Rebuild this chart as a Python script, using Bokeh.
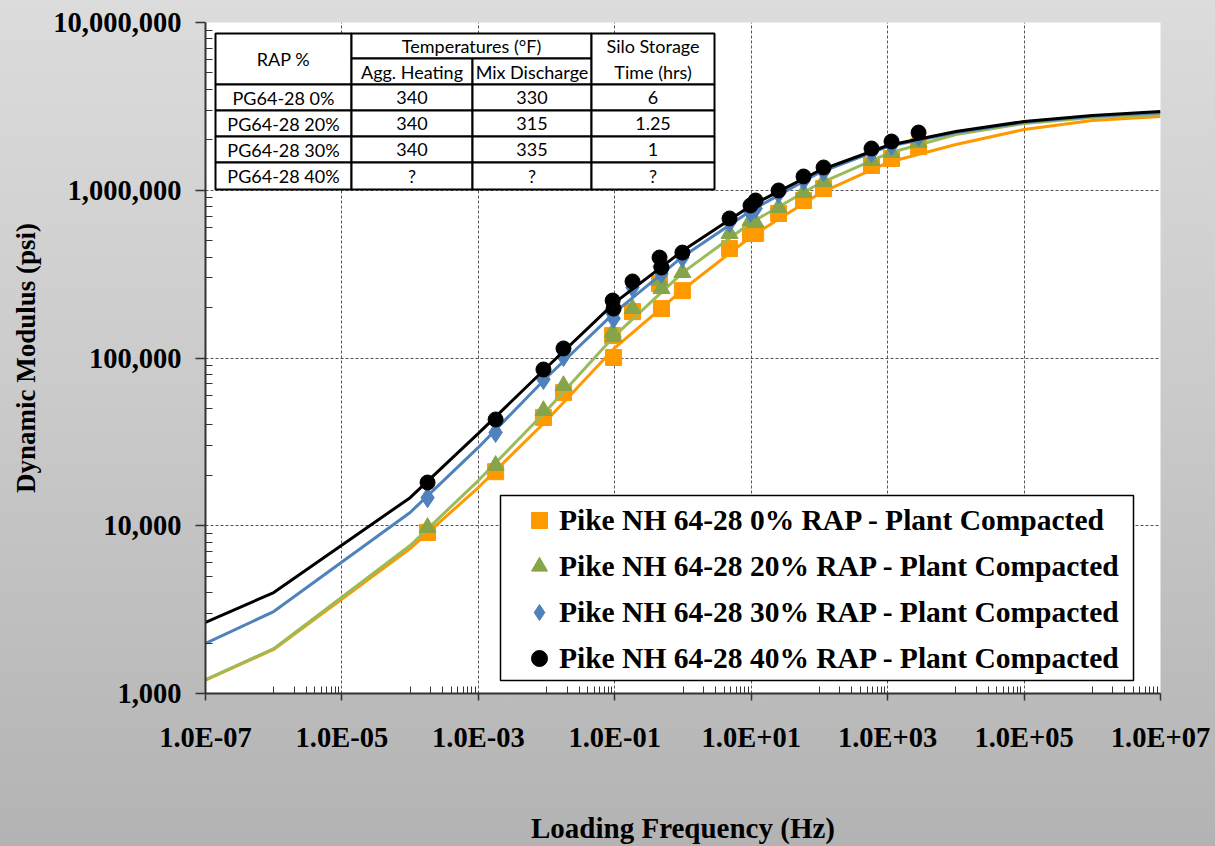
from bokeh.plotting import figure
from bokeh.models import (FixedTicker, CustomJSTickFormatter, NumeralTickFormatter,
                          Legend, LegendItem, BoxAnnotation, Label)
from bokeh.embed import file_html
from bokeh.resources import INLINE

# ---- master curves (loading frequency in Hz, |E*| in psi) ----
curve_freq = [1e-7, 1e-6, 1e-4, 1e-3, 1e-2, 1e-1, 1, 10, 100, 1e3, 1e4, 1e5, 1e6, 1e7]
curve_rap0 = [1200, 1830, 7310, 16900, 42400, 115000, 256000, 530000, 957000,
              1463000, 1874000, 2300000, 2606000, 2754000]
curve_rap20 = [1210, 1850, 7620, 18600, 48600, 136000, 324000, 642000, 1097000,
               1656000, 2150000, 2500000, 2716000, 2830000]
curve_rap30 = [1990, 3080, 12000, 29300, 76500, 187000, 403000, 757000, 1276000,
               1823000, 2208000, 2540000, 2760000, 2900000]
curve_rap40 = [2650, 4000, 14700, 35500, 87800, 214000, 437000, 811000, 1311000,
               1848000, 2239000, 2570000, 2790000, 2946000]

# ---- measured points (reduced frequency, Hz) ----
point_freq = [1.80e-4, 1.79e-3, 9.0e-3, 1.77e-2, 0.093, 0.096, 0.182, 0.453, 0.484,
              0.98, 4.81, 9.77, 11.6, 25.2, 58.5, 115, 580, 1140, 2840]
meas_rap0 = [9120, 21000, 44200, 62200, 136000, 100700, 189000, 278000, 197000,
             252000, 449000, 552000, 552000, 727000, 869000, 1024000, 1405000,
             1546000, 1823000]
meas_rap20 = [9770, 22900, 48600, 68500, 142000, 134000, 197000, 290000, 259000,
              323000, 552000, 660000, 642000, 789000, 970000, 1127000, 1504000,
              1679000, 1927000]
meas_rap30 = [14700, 36000, 74500, 102000, 184000, 172000, 263000, 351000, 319000,
              397000, 642000, 737000, 779000, 957000, 1143000, 1294000, 1679000,
              1848000, 2091000]
meas_rap40 = [18100, 43000, 85400, 114000, 220000, 197000, 286000, 397000, 346000,
              425000, 679000, 811000, 869000, 997000, 1208000, 1367000, 1774000,
              1953000, 2208000]

series_labels = [
    "Pike NH 64-28 0% RAP - Plant Compacted",
    "Pike NH 64-28 20% RAP - Plant Compacted",
    "Pike NH 64-28 30% RAP - Plant Compacted",
    "Pike NH 64-28 40% RAP - Plant Compacted",
]

# ---- mix production table ----
table_rap = ["PG64-28 0%", "PG64-28 20%", "PG64-28 30%", "PG64-28 40%"]
table_agg_heating = ["340", "340", "340", "?"]
table_mix_discharge = ["330", "315", "335", "?"]
table_silo_time = ["6", "1.25", "1", "?"]

SERIF = "Liberation Serif"

p = figure(width=1215, height=846, x_axis_type="log", y_axis_type="log",
           x_range=(1e-7, 1e7), y_range=(1e3, 1e7),
           output_backend="svg", toolbar_location=None,
           min_border_left=205, min_border_right=55,
           min_border_top=22, min_border_bottom=153)

p.border_fill_alpha = 0
p.background_fill_color = "white"
p.outline_line_color = None
p.styles = {"background-image": "linear-gradient(to bottom, #dcdcdc 0%, #cbcbcb 45%, #b3b3b3 100%)"}

# axes
x_major = [10.0 ** e for e in range(-7, 8, 2)]
x_minor = [k * 10.0 ** e for e in range(-6, 7, 2) for k in range(1, 10)]
y_major = [10.0 ** e for e in range(3, 8)]
y_minor = [k * 10.0 ** e for e in range(3, 7) for k in range(2, 10)]

p.xaxis.ticker = FixedTicker(ticks=x_major, minor_ticks=x_minor)
p.yaxis.ticker = FixedTicker(ticks=y_major, minor_ticks=y_minor)
p.xaxis.formatter = CustomJSTickFormatter(code="""
    const e = Math.round(Math.log10(tick));
    const s = String(Math.abs(e)).padStart(2, "0");
    return "1.0E" + (e < 0 ? "-" : "+") + s;
""")
p.yaxis.formatter = NumeralTickFormatter(format="0,0")

for ax in (p.xaxis, p.yaxis):
    ax.axis_line_color = "#333333"
    ax.axis_line_width = 2
    ax.major_tick_line_color = "#333333"
    ax.minor_tick_line_color = "#333333"
    ax.major_tick_line_width = 1.5
    ax.major_tick_in = 0
    ax.minor_tick_out = 0
    ax.minor_tick_in = 7
    ax.major_label_text_font = SERIF
    ax.major_label_text_font_style = "bold"
    ax.major_label_text_font_size = "28.5px"
    ax.major_label_text_color = "black"
    ax.axis_label_text_font = SERIF
    ax.axis_label_text_font_style = "bold"
    ax.axis_label_text_color = "black"

p.xaxis.major_tick_out = 7
p.xaxis.major_label_standoff = 21
p.xaxis.axis_label = "Loading Frequency (Hz)"
p.xaxis.axis_label_text_font_size = "29px"
p.xaxis.axis_label_standoff = 56

p.yaxis.major_tick_out = 10
p.yaxis.major_label_standoff = 14
p.yaxis.axis_label = "Dynamic Modulus (psi)"
p.yaxis.axis_label_text_font_size = "27px"
p.yaxis.axis_label_standoff = 9

for g in (p.xgrid, p.ygrid):
    g.grid_line_color = "#555555"
    g.grid_line_dash = "3 2"
    g.grid_line_width = 1

# series
styles = [
    (curve_rap0, meas_rap0, "#FF9900", "#FF9900", "square", 16),
    (curve_rap20, meas_rap20, "#9BBB59", "#86A449", "triangle", 17),
    (curve_rap30, meas_rap30, "#4F81BD", "#4F81BD", "diamond", 20),
    (curve_rap40, meas_rap40, "#000000", "#000000", "circle", 15),
]
legend_items = []
for (curve, meas, line_col, mark_col, marker, size), label in zip(styles, series_labels):
    p.line(curve_freq, curve, line_color=line_col, line_width=3)
    r = p.scatter(point_freq, meas, marker=marker, size=size,
                  fill_color=mark_col, line_color=mark_col)
    legend_items.append(LegendItem(label=label, renderers=[r]))

# legend frame
p.add_layout(BoxAnnotation(left=295, right=928, bottom=13, top=198,
                           left_units="screen", right_units="screen",
                           bottom_units="screen", top_units="screen",
                           fill_color="white", fill_alpha=1,
                           line_color="black", line_width=1.5, line_alpha=1))
legend = Legend(items=legend_items, location=(309, 10),
                label_text_font=SERIF, label_text_font_style="bold",
                label_text_font_size="29.5px", label_text_color="black",
                glyph_width=40, glyph_height=40, label_height=40,
                spacing=6, padding=5, margin=0, label_standoff=0,
                background_fill_alpha=0, border_line_alpha=0)
p.add_layout(legend, "center")

# production table (screen units relative to the plot frame)
cols = [10, 146, 267, 386, 509]
rows = [660, 635, 609, 583, 557, 531, 504]


def cell(x0, x1, y0, y1):
    p.add_layout(BoxAnnotation(left=x0, right=x1, bottom=y0, top=y1,
                               left_units="screen", right_units="screen",
                               bottom_units="screen", top_units="screen",
                               fill_color="white", fill_alpha=1,
                               line_color="black", line_width=2, line_alpha=1))


def text(x, y, s):
    p.add_layout(Label(x=x, y=y, x_units="screen", y_units="screen", text=s,
                       text_font="Lato", text_font_size="18px", text_color="black",
                       text_align="center", text_baseline="middle"))


cell(cols[0], cols[1], rows[2], rows[0])
cell(cols[1], cols[3], rows[1], rows[0])
cell(cols[1], cols[2], rows[2], rows[1])
cell(cols[2], cols[3], rows[2], rows[1])
cell(cols[3], cols[4], rows[2], rows[0])
for r in range(4):
    for c in range(4):
        cell(cols[c], cols[c + 1], rows[r + 3], rows[r + 2])

text((cols[0] + cols[1]) / 2, (rows[0] + rows[2]) / 2, "RAP %")
text((cols[1] + cols[3]) / 2, (rows[0] + rows[1]) / 2, "Temperatures (°F)")
text((cols[1] + cols[2]) / 2, (rows[1] + rows[2]) / 2, "Agg. Heating")
text((cols[2] + cols[3]) / 2, (rows[1] + rows[2]) / 2, "Mix Discharge")
text((cols[3] + cols[4]) / 2, (rows[0] + rows[1]) / 2, "Silo Storage")
text((cols[3] + cols[4]) / 2, (rows[1] + rows[2]) / 2, "Time (hrs)")
for r, vals in enumerate(zip(table_rap, table_agg_heating, table_mix_discharge, table_silo_time)):
    for c, s in enumerate(vals):
        text((cols[c] + cols[c + 1]) / 2, (rows[r + 2] + rows[r + 3]) / 2, s)

open("out.html", "w").write(file_html(p, INLINE))
